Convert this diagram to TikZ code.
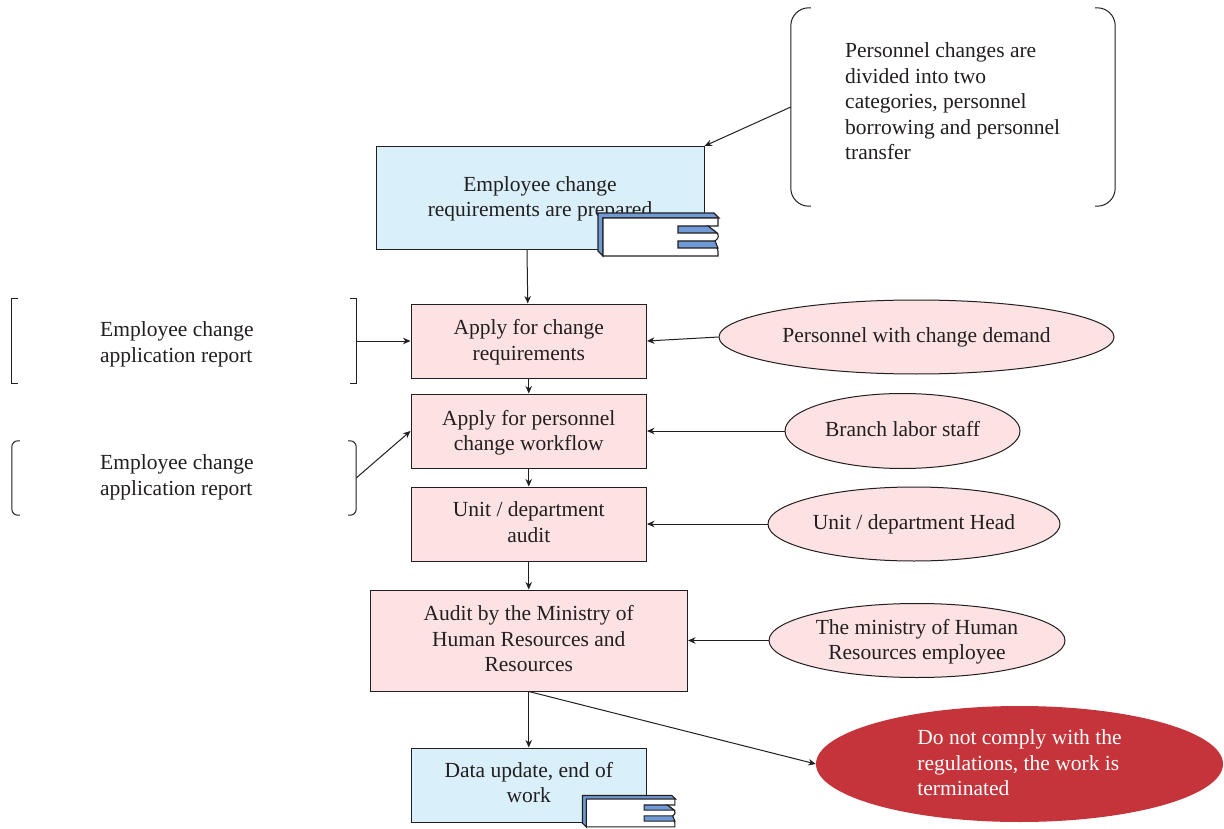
\documentclass[tikz,border=0pt]{standalone}
\usepackage{fontspec}
\setmainfont{Liberation Serif}
\usetikzlibrary{arrows.meta,shapes.geometric,calc}
\definecolor{ink}{RGB}{35,31,32}
\definecolor{lblue}{RGB}{217,239,250}
\definecolor{lpink}{RGB}{253,226,227}
\definecolor{cblue}{RGB}{110,155,213}
\definecolor{cred}{RGB}{196,52,58}
\newcommand{\nudged}[2]{\raisebox{#1}[\height][\depth]{\begin{tabular}{@{}c@{}}#2\end{tabular}}}
\newcommand{\nudgedl}[2]{\raisebox{#1}[\height][\depth]{\begin{tabular}{@{}l@{}}#2\end{tabular}}}
\tikzset{
  x=1pt,y=-1pt,
  txt/.style={font=\fontsize{21.5pt}{25.5pt}\selectfont,text=ink},
  bx/.style={draw=ink,line width=1pt,inner sep=0pt,align=center,txt},
  blue/.style={bx,fill=lblue},
  pink/.style={bx,fill=lpink},
  ell/.style={ellipse,draw=ink,line width=1pt,fill=lpink,inner sep=0pt,align=center,txt},
  ghost/.style={inner sep=0pt,draw=none},
  lab/.style={inner sep=0pt,align=left,txt},
  brk/.style={draw=ink,line width=1pt},
  con/.style={draw=ink,line width=1pt,-{Stealth[length=7.5pt,width=6.5pt]}},
  comp/.pic={
    \draw[ink,line width=1.1pt,fill=cblue] (0,0)--(116,0)--(121,5)--(5,5)--(5,43)--(0,38)--cycle;
    \draw[ink,line width=1.1pt,fill=white] (5,5)--(120,5)--(120,13)--(110,13)--(119,20)
       .. controls (121,23) and (121,25) .. (117,28)--(119,35)--(120,38)--(120,43)--(5,43)--cycle;
    \draw[ink,line width=1.1pt,fill=cblue] (80,13)--(110,13)--(119,20)--(80,20)--cycle;
    \draw[ink,line width=1.1pt,fill=cblue] (80,28)--(117,28)--(120,35)--(80,35)--cycle;
  }
}
\begin{document}
\begin{tikzpicture}
\useasboundingbox[fill=white] (0,0) rectangle (1224,829);
% main boxes
\node[blue,minimum width=328pt,minimum height=103pt] (top) at (540,198) {\nudged{-1pt}{Employee change\\requirements are prepared}};
\node[pink,minimum width=235.5pt,minimum height=74pt] (apply) at (528.75,341) {\nudged{-1.5pt}{Apply for change\\requirements}};
\node[pink,minimum width=235.5pt,minimum height=74pt] (flow) at (528.75,431) {\nudged{-2pt}{Apply for personnel\\change workflow}};
\node[pink,minimum width=235.5pt,minimum height=74pt] (unit) at (528.75,524) {\nudged{-0.5pt}{Unit / department\\audit}};
\node[pink,minimum width=317.5pt,minimum height=101pt] (audit) at (528.75,640.5) {\nudged{-0.5pt}{Audit by the Ministry of\\Human Resources and\\Resources}};
\node[blue,minimum width=235.5pt,minimum height=74pt] (data) at (528.75,785) {\nudged{0pt}{Data update, end of\\work}};
% ellipses
\node[ell,minimum width=395pt,minimum height=74pt] (pers) at (916.5,337) {\nudged{0pt}{Personnel with change demand}};
\node[ell,minimum width=235pt,minimum height=75pt] (branch) at (902.5,431) {\nudged{-0.5pt}{Branch labor staff}};
\node[ell,minimum width=292pt,minimum height=74pt] (head) at (914,524) {\nudged{0pt}{Unit / department Head}};
\node[ell,minimum width=296pt,minimum height=74pt] (min) at (917,640.5) {\nudged{-1.5pt}{The ministry of Human\\Resources employee}};
\node[ellipse,fill=cred,inner sep=0pt,minimum width=407pt,minimum height=116pt,txt,text=white] (red) at (1019.5,764) {\nudgedl{-1pt}{Do not comply with the\\regulations, the work is\\terminated}};
% bracket groups
\node[ghost,minimum width=344pt,minimum height=84pt] (rep1) at (184,341) {};
\node[ghost,minimum width=344pt,minimum height=74pt] (rep2) at (184,478) {};
\node[ghost,minimum width=324pt,minimum height=198pt] (note) at (953,107) {};
\draw[brk] ([xshift=6pt]rep1.north west)--(rep1.north west)--(rep1.south west)--([xshift=6pt]rep1.south west);
\draw[brk] ([xshift=-6pt]rep1.north east)--(rep1.north east)--(rep1.south east)--([xshift=-6pt]rep1.south east);
\draw[brk,rounded corners=6pt] ([xshift=8pt]rep2.north west)--(rep2.north west)--(rep2.south west)--([xshift=8pt]rep2.south west);
\draw[brk,rounded corners=6pt] ([xshift=-8pt]rep2.north east)--(rep2.north east)--(rep2.south east)--([xshift=-8pt]rep2.south east);
\draw[brk,rounded corners=18pt] ([xshift=20pt]note.north west)--(note.north west)--(note.south west)--([xshift=20pt]note.south west);
\draw[brk,rounded corners=18pt] ([xshift=-20pt]note.north east)--(note.north east)--(note.south east)--([xshift=-20pt]note.south east);
\node[lab,anchor=west] (rep1t) at (100,344.5) {Employee change\\application report};
\node[lab,anchor=west] (rep2t) at (100,477.5) {Employee change\\application report};
\node[lab,anchor=west] (notet) at (845,101.5) {Personnel changes are\\divided into two\\categories, personnel\\borrowing and personnel\\transfer};
% connectors
\draw[con] ([xshift=-13pt]top.south)--([xshift=-1pt]apply.north);
\draw[con] (note.west)--(top.north east);
\draw[con] (rep1.east)--(apply.west);
\draw[con] (rep2.east)--(flow.west);
\draw[con] (apply.south)--(flow.north);
\draw[con] (flow.south)--(unit.north);
\draw[con] (unit.south)--(audit.north);
\draw[con] (audit.south)--(data.north);
\draw[con] (pers.west)--(apply.east);
\draw[con] (branch.west)--(flow.east);
\draw[con] (head.west)--(unit.east);
\draw[con] (min.west)--(audit.east);
\draw[con] (audit.south)--(red.west);
% component icons
\pic at (598,213) {comp};
\pic[transform shape,xscale=0.77,yscale=0.73] at (582.5,795.5) {comp};
\end{tikzpicture}
\end{document}
